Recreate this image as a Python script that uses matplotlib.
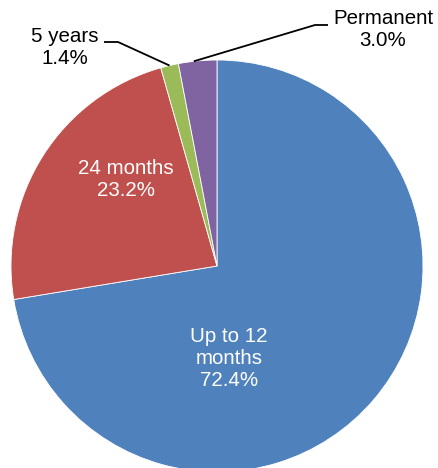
import matplotlib.pyplot as plt
import numpy as np

# dados
categorias = ["Up to 12\nmonths", "24 months", "5 years", "Permanent"]
valores = [72.4, 23.2, 1.4, 3.0]
cores = ["#4F81BD", "#C0504D", "#9BBB59", "#8064A2"]

plt.rcParams['font.family'] = ['Liberation Sans', 'DejaVu Sans']

W, H = 439, 468
fig = plt.figure(figsize=(W / 100, H / 100), dpi=100)
ax = fig.add_axes([0, 0, 1, 1])

cx, cy, r = 217, H - 266, 206
wedges, _ = ax.pie(valores, colors=cores, startangle=90, counterclock=False,
                   center=(cx, cy), radius=r, frame=True,
                   wedgeprops=dict(edgecolor='white', linewidth=0.6))
ax.set_xlim(0, W)
ax.set_ylim(0, H)
ax.set_aspect('equal')
ax.axis('off')

fs = 14.8
ls = 1.2
# rótulos internos
ax.text(229, H - 358, f"{categorias[0]}\n{valores[0]:.1f}%", color='white',
        ha='center', va='center', fontsize=fs, linespacing=ls)
ax.text(126, H - 180, f"{categorias[1]}\n{valores[1]:.1f}%", color='white',
        ha='center', va='center', fontsize=fs, linespacing=ls)

# rótulos externos com linha guia
ax.text(65, H - 48, f"{categorias[2]}\n{valores[2]:.1f}%", color='black',
        ha='center', va='center', fontsize=fs, linespacing=ls)
ax.text(383, H - 30, f"{categorias[3]}\n{valores[3]:.1f}%", color='black',
        ha='center', va='center', fontsize=fs, linespacing=ls)


def ponto_borda(w, frac=0.5):
    ang = np.deg2rad(w.theta1 + (w.theta2 - w.theta1) * frac)
    return cx + r * np.cos(ang), cy + r * np.sin(ang)


px, py = ponto_borda(wedges[2])
ax.plot([104, 118, px], [H - 42, H - 42, py], color='black', lw=1.3,
        solid_capstyle='butt')
px, py = ponto_borda(wedges[3], 0.6)
ax.plot([px, 315, 328], [py, H - 25, H - 25], color='black', lw=1.3,
        solid_capstyle='butt')

fig.savefig("out.png", dpi=100)
